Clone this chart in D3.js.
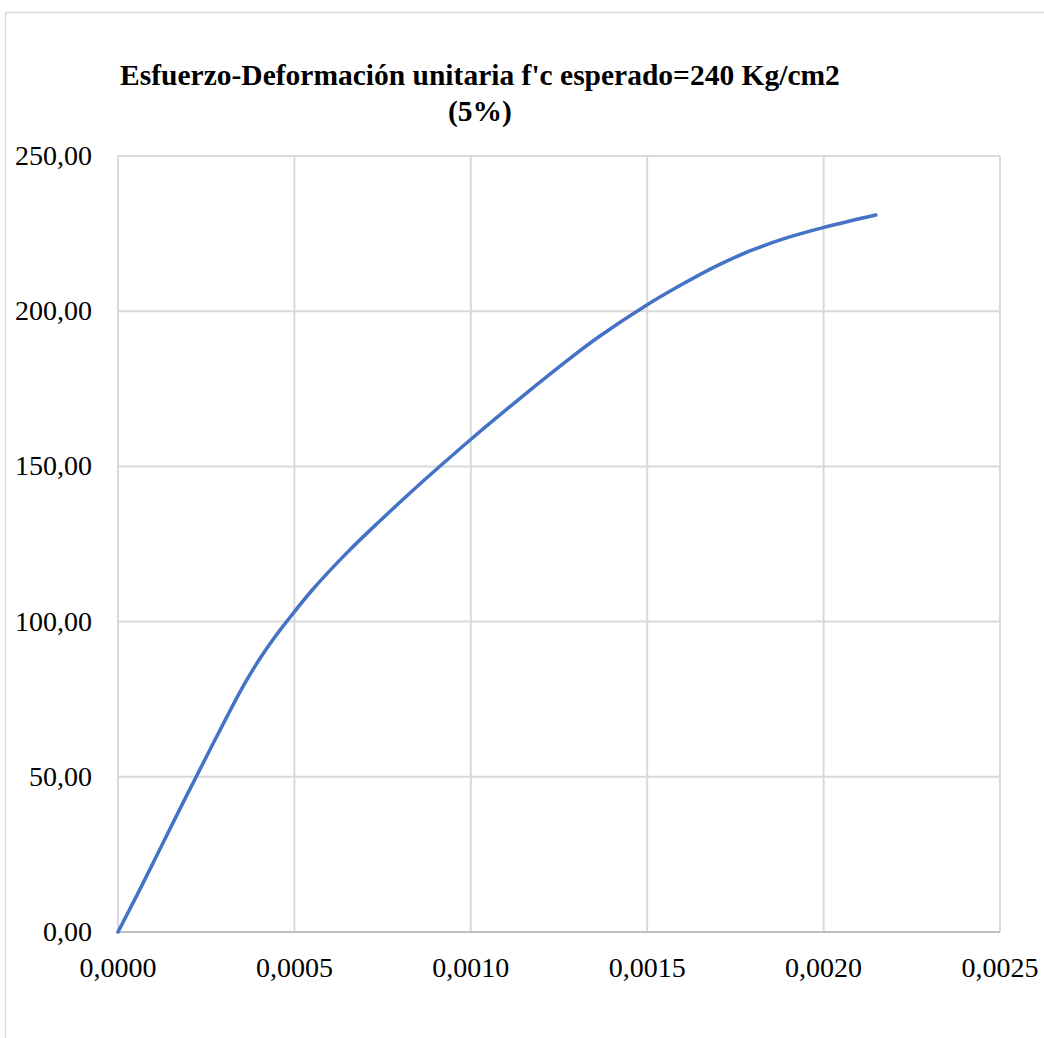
<!DOCTYPE html>
<html lang="es">
<head>
<meta charset="UTF-8">
<title>Esfuerzo-Deformación</title>
<script src="https://cdn.jsdelivr.net/npm/d3@7"></script>
<style>
  body { margin: 0; background: #fff; }
  text { font-family: "Liberation Serif", "Times New Roman", serif; }
</style>
</head>
<body>
<script>
var w = 1044, h = 1038;

// strain (unitary deformation) and stress (Kg/cm2)
var strain = [0, 0.000070, 0.000166, 0.000261, 0.000330, 0.000365, 0.000400,
              0.000440, 0.000480, 0.000550, 0.000650, 0.000743, 0.000837, 0.000918,
              0.001003, 0.001074, 0.001175, 0.001272, 0.001366, 0.001499, 0.001603,
              0.001697, 0.001791, 0.001886, 0.002001, 0.002148];
var stress = [0, 15.5, 37.5, 58.8, 74.0, 81.2, 87.7,
              94.3, 100.3, 110.1, 122.3, 132.5, 142.4, 150.6,
              159.0, 165.8, 175.2, 184.0, 192.0, 202.0, 208.9,
              214.6, 219.4, 223.3, 227.0, 231.0];
var xTicks = [0, 0.0005, 0.0010, 0.0015, 0.0020, 0.0025];
var yTicks = [0, 50, 100, 150, 200, 250];
var titleLines = ["Esfuerzo-Deformación unitaria f'c esperado=240 Kg/cm2", "(5%)"];

var m = {left: 118, right: 1000, top: 156, bottom: 932};

var svg = d3.select("body").append("svg")
    .attr("width", w)
    .attr("height", h);

// outer chart frame
svg.append("rect")
    .attr("x", 5.5).attr("y", 12.5)
    .attr("width", w + 20).attr("height", h + 20)
    .attr("fill", "none")
    .attr("stroke", "#d9d9d9")
    .attr("stroke-width", 1.5);

var x = d3.scaleLinear().domain([0, 0.0025]).range([m.left, m.right]);
var y = d3.scaleLinear().domain([0, 250]).range([m.bottom, m.top]);

var fmt = function(d, p) { return d.toFixed(p).replace(".", ","); };

// grid lines
svg.append("g")
    .selectAll("line")
    .data(yTicks)
    .enter()
    .append("line")
    .attr("x1", m.left).attr("x2", m.right)
    .attr("y1", function(d) { return y(d); })
    .attr("y2", function(d) { return y(d); })
    .attr("stroke", "#d9d9d9")
    .attr("stroke-width", 2);

svg.append("g")
    .selectAll("line")
    .data(xTicks)
    .enter()
    .append("line")
    .attr("y1", m.top).attr("y2", m.bottom)
    .attr("x1", function(d) { return x(d); })
    .attr("x2", function(d) { return x(d); })
    .attr("stroke", "#d9d9d9")
    .attr("stroke-width", 2);

// bottom axis line
svg.append("line")
    .attr("x1", m.left).attr("x2", m.right)
    .attr("y1", y(0)).attr("y2", y(0))
    .attr("stroke", "#bfbfbf")
    .attr("stroke-width", 2);

// tick labels
svg.append("g")
    .selectAll("text")
    .data(yTicks)
    .enter()
    .append("text")
    .attr("x", 92)
    .attr("y", function(d) { return y(d) + 9; })
    .attr("text-anchor", "end")
    .attr("font-size", "28px")
    .attr("fill", "#000")
    .text(function(d) { return fmt(d, 2); });

svg.append("g")
    .selectAll("text")
    .data(xTicks)
    .enter()
    .append("text")
    .attr("x", function(d) { return x(d); })
    .attr("y", 977)
    .attr("text-anchor", "middle")
    .attr("font-size", "28px")
    .attr("fill", "#000")
    .text(function(d) { return fmt(d, 4); });

// title
svg.append("g")
    .selectAll("text")
    .data(titleLines)
    .enter()
    .append("text")
    .attr("x", 480)
    .attr("y", function(d, i) { return 85 + i * 36; })
    .attr("text-anchor", "middle")
    .attr("font-size", "29.5px")
    .attr("font-weight", "bold")
    .attr("fill", "#000")
    .text(function(d) { return d; });

// curve
var pts = strain.map(function(d, i) { return [d, stress[i]]; });
var line = d3.line()
    .x(function(d) { return x(d[0]); })
    .y(function(d) { return y(d[1]); })
    .curve(d3.curveCatmullRom.alpha(0.5));

svg.append("path")
    .datum(pts)
    .attr("d", line)
    .attr("fill", "none")
    .attr("stroke", "#4472c4")
    .attr("stroke-width", 3.5)
    .attr("stroke-linecap", "round");
</script>
</body>
</html>
